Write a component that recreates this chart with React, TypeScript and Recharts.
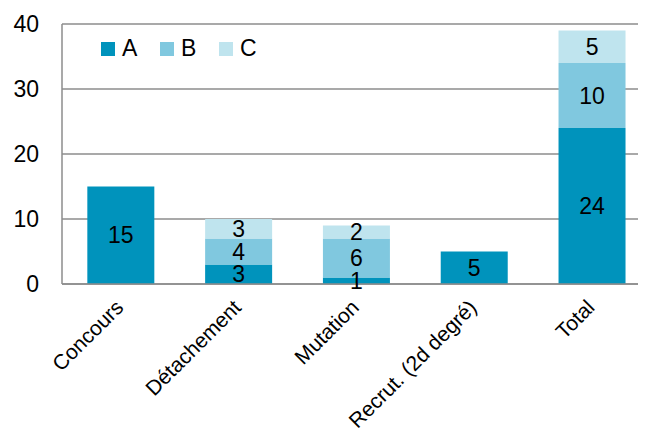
import React from 'react';
import { BarChart, Bar, XAxis, YAxis, CartesianGrid, Legend, LabelList } from 'recharts';

const categories = ['Concours', 'Détachement', 'Mutation', 'Recrut. (2d degré)', 'Total'];
const seriesA = [15, 3, 1, 5, 24];
const seriesB = [0, 4, 6, 0, 10];
const seriesC = [0, 3, 2, 0, 5];
const yTicks = [0, 10, 20, 30, 40];

const COLORS = { A: '#0093BC', B: '#80C8DF', C: '#BFE4EE' };
const FONT = '"Liberation Sans", Arial, sans-serif';
const GRID = '#8c8c8c';

const data = categories.map((name, i) => ({ name, A: seriesA[i], B: seriesB[i], C: seriesC[i] }));

const fmt = (v: any) => (v === 0 || v == null ? '' : v);

const YTick = (props: any) => {
  const { x, y, payload } = props;
  return (
    <text x={x} y={y} textAnchor="end" dominantBaseline="central" fontSize={23} fontFamily={FONT} fill="#000">
      {payload.value}
    </text>
  );
};

const XTick = (props: any) => {
  const { x, y, payload } = props;
  return (
    <text transform={`translate(${x - 7},${y + 6}) rotate(-45)`} textAnchor="end" dominantBaseline="hanging" fontSize={21} fontFamily={FONT} fill="#000">
      {payload.value}
    </text>
  );
};

const LegendContent = () => (
  <div style={{ display: 'flex', fontFamily: FONT, fontSize: 23, color: '#000' }}>
    {(['A', 'B', 'C'] as const).map((k) => (
      <div key={k} style={{ display: 'flex', alignItems: 'center', width: 59 }}>
        <span style={{ display: 'inline-block', width: 14, height: 14, background: COLORS[k], marginRight: 7 }} />
        <span>{k}</span>
      </div>
    ))}
  </div>
);

export default function App() {
  return (
    <div style={{ width: 638, height: 420, overflow: 'hidden', position: 'relative' }}>
      <BarChart width={660} height={420} data={data} margin={{ top: 16, right: 17, left: 0, bottom: 14 }} barCategoryGap="21.5%">
        <CartesianGrid horizontal vertical={false} stroke={GRID} strokeWidth={1.5} />
        <XAxis dataKey="name" interval={0} height={130} tick={<XTick />} tickLine={false} axisLine={{ stroke: GRID, strokeWidth: 1.5 }} />
        <YAxis width={54} domain={[0, 40]} ticks={yTicks} tick={<YTick />} tickLine={false} tickSize={0} tickMargin={23} axisLine={{ stroke: GRID, strokeWidth: 1.5 }} />
        <Legend layout="horizontal" verticalAlign="middle" align="center" content={<LegendContent />} wrapperStyle={{ position: 'absolute', top: 27, left: 93, width: 200 }} />
        <Bar dataKey="A" stackId="s" fill={COLORS.A} isAnimationActive={false}>
          <LabelList dataKey="A" position="center" formatter={fmt} fontSize={23} fontFamily={FONT} fill="#000" />
        </Bar>
        <Bar dataKey="B" stackId="s" fill={COLORS.B} isAnimationActive={false}>
          <LabelList dataKey="B" position="center" formatter={fmt} fontSize={23} fontFamily={FONT} fill="#000" />
        </Bar>
        <Bar dataKey="C" stackId="s" fill={COLORS.C} isAnimationActive={false}>
          <LabelList dataKey="C" position="center" formatter={fmt} fontSize={23} fontFamily={FONT} fill="#000" />
        </Bar>
      </BarChart>
    </div>
  );
}
